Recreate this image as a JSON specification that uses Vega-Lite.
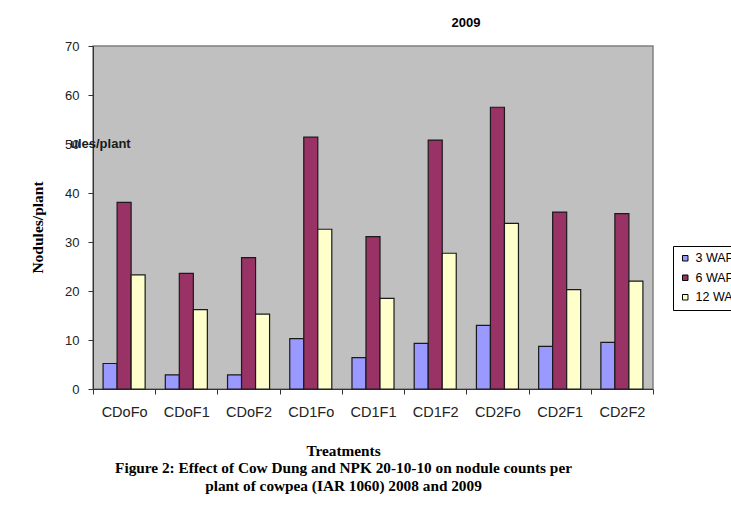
{
  "$schema": "https://vega.github.io/schema/vega-lite/v6.json",
  "width": 560,
  "height": 343,
  "autosize": {"type": "none"},
  "padding": {"left": 93, "top": 46, "right": 78, "bottom": 130},
  "background": "white",
  "config": {
    "view": {"fill": "#C0C0C0", "stroke": "#808080", "strokeWidth": 1.5},
    "font": "Liberation Sans"
  },
  "title": {
    "text": "2009",
    "font": "Liberation Sans",
    "fontSize": 13,
    "fontWeight": "bold",
    "color": "#000000",
    "anchor": "middle",
    "dx": 93,
    "offset": 10,
    "frame": "group"
  },
  "datasets": {
    "counts": [
      {"treatment": "CDoFo", "stage": "3 WAP", "value": 5.2},
      {"treatment": "CDoFo", "stage": "6 WAP", "value": 38.1},
      {"treatment": "CDoFo", "stage": "12 WAP", "value": 23.3},
      {"treatment": "CDoF1", "stage": "3 WAP", "value": 2.9},
      {"treatment": "CDoF1", "stage": "6 WAP", "value": 23.6},
      {"treatment": "CDoF1", "stage": "12 WAP", "value": 16.2},
      {"treatment": "CDoF2", "stage": "3 WAP", "value": 2.9},
      {"treatment": "CDoF2", "stage": "6 WAP", "value": 26.8},
      {"treatment": "CDoF2", "stage": "12 WAP", "value": 15.3},
      {"treatment": "CD1Fo", "stage": "3 WAP", "value": 10.3},
      {"treatment": "CD1Fo", "stage": "6 WAP", "value": 51.4},
      {"treatment": "CD1Fo", "stage": "12 WAP", "value": 32.6},
      {"treatment": "CD1F1", "stage": "3 WAP", "value": 6.4},
      {"treatment": "CD1F1", "stage": "6 WAP", "value": 31.1},
      {"treatment": "CD1F1", "stage": "12 WAP", "value": 18.5},
      {"treatment": "CD1F2", "stage": "3 WAP", "value": 9.3},
      {"treatment": "CD1F2", "stage": "6 WAP", "value": 50.8},
      {"treatment": "CD1F2", "stage": "12 WAP", "value": 27.7},
      {"treatment": "CD2Fo", "stage": "3 WAP", "value": 13.0},
      {"treatment": "CD2Fo", "stage": "6 WAP", "value": 57.5},
      {"treatment": "CD2Fo", "stage": "12 WAP", "value": 33.8},
      {"treatment": "CD2F1", "stage": "3 WAP", "value": 8.7},
      {"treatment": "CD2F1", "stage": "6 WAP", "value": 36.1},
      {"treatment": "CD2F1", "stage": "12 WAP", "value": 20.3},
      {"treatment": "CD2F2", "stage": "3 WAP", "value": 9.5},
      {"treatment": "CD2F2", "stage": "6 WAP", "value": 35.8},
      {"treatment": "CD2F2", "stage": "12 WAP", "value": 22.0}
    ],
    "note": [{"text": "ules/plant", "value": 50}]
  },
  "layer": [
    {
      "data": {"name": "counts"},
      "mark": {"type": "bar", "stroke": "#1a1a1a", "strokeWidth": 1.2},
      "encoding": {
        "x": {
          "field": "treatment",
          "type": "nominal",
          "sort": null,
          "scale": {
            "domain": ["CDoFo", "CDoF1", "CDoF2", "CD1Fo", "CD1F1", "CD1F2", "CD2Fo", "CD2F1", "CD2F2"],
            "paddingInner": 0,
            "paddingOuter": 0
          },
          "axis": {
            "title": [
              "Treatments",
              "Figure 2: Effect of Cow Dung and NPK 20-10-10 on nodule counts per",
              "plant of cowpea (IAR 1060) 2008 and 2009"
            ],
            "titleFont": "Liberation Serif",
            "titleFontSize": 15.3,
            "titleFontWeight": "bold",
            "titleColor": "#000000",
            "titleX": 250,
            "titleY": 54,
            "titleAlign": "center",
            "titleBaseline": "top",
            "titleLineHeight": 17.5,
            "labelFont": "Liberation Sans",
            "labelFontSize": 14.5,
            "labelColor": "#222222",
            "labelPadding": 11,
            "labelAngle": 0,
            "tickSize": 5,
            "tickColor": "#333333",
            "tickBand": "extent",
            "domainColor": "#333333",
            "grid": false
          }
        },
        "xOffset": {
          "field": "stage",
          "type": "nominal",
          "sort": ["3 WAP", "6 WAP", "12 WAP"],
          "scale": {"paddingInner": 0, "paddingOuter": 0.72}
        },
        "y": {
          "field": "value",
          "type": "quantitative",
          "scale": {"domain": [0, 70], "nice": false},
          "axis": {
            "values": [0, 10, 20, 30, 40, 50, 60, 70],
            "title": "Nodules/plant",
            "titleFont": "Liberation Serif",
            "titleFontSize": 15.5,
            "titleFontWeight": "bold",
            "titleColor": "#000000",
            "titleX": -48,
            "titleY": 181,
            "labelFont": "Liberation Sans",
            "labelFontSize": 13,
            "labelColor": "#222222",
            "labelPadding": 9,
            "tickSize": 5,
            "tickColor": "#333333",
            "domainColor": "#333333",
            "grid": false
          }
        },
        "color": {
          "field": "stage",
          "type": "nominal",
          "sort": ["3 WAP", "6 WAP", "12 WAP"],
          "scale": {
            "domain": ["3 WAP", "6 WAP", "12 WAP"],
            "range": ["#9999FF", "#993366", "#FFFFCC"]
          },
          "legend": {
            "title": null,
            "orient": "none",
            "legendX": 580,
            "legendY": 200,
            "direction": "vertical",
            "strokeColor": "#000000",
            "fillColor": "#ffffff",
            "padding": 6,
            "symbolType": "square",
            "symbolSize": 30,
            "symbolStrokeColor": "#000000",
            "symbolStrokeWidth": 1,
            "labelFont": "Liberation Sans",
            "labelFontSize": 12.5,
            "labelColor": "#000000",
            "labelOffset": 4,
            "rowPadding": 6.5
          }
        }
      }
    },
    {
      "data": {"name": "note"},
      "mark": {
        "type": "text",
        "align": "left",
        "baseline": "middle",
        "dx": -23,
        "font": "Liberation Sans",
        "fontSize": 13,
        "fontWeight": "bold",
        "color": "#1a1a1a"
      },
      "encoding": {
        "x": {"datum": "CDoFo", "type": "nominal", "bandPosition": 0},
        "y": {"field": "value", "type": "quantitative"},
        "text": {"field": "text"}
      }
    }
  ]
}
